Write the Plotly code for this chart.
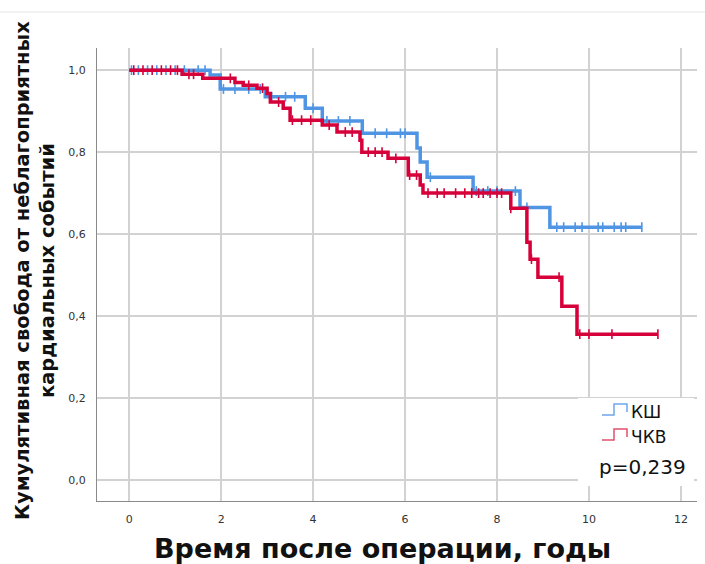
import numpy as np
import plotly.graph_objects as go

# ---------------- data ----------------
group_names = ["КШ", "ЧКВ"]

ksh_event_times = [0, 1.76, 1.98, 2.96, 3.83, 4.2, 5.07, 6.26, 6.33, 6.48, 7.48, 8.5, 9.15]
ksh_survival = [1.0, 0.988, 0.954, 0.935, 0.907, 0.876, 0.846, 0.81, 0.776, 0.739, 0.705, 0.665, 0.617]
ksh_last_time = 11.15
ksh_censored = [0.05, 0.2, 0.4, 0.6, 0.8, 1.0, 1.2, 1.5, 1.65, 2.05, 2.3, 2.6, 2.85, 3.1, 3.4,
                3.6, 4.0, 4.3, 4.55, 4.8, 5.35, 5.6, 5.9, 6.0, 6.55, 7.55, 7.8, 8.0, 8.4, 8.65,
                9.3, 9.45, 9.7, 9.85, 10.2, 10.3, 10.55, 10.7, 10.8, 11.15]

pci_event_times = [0, 1.15, 1.6, 2.3, 2.48, 2.78, 3.0, 3.07, 3.35, 3.5, 4.2, 4.52, 5.02, 5.06,
                   5.63, 6.07, 6.33, 6.39, 8.3, 8.65, 8.72, 8.89, 9.41, 9.74]
pci_survival = [1.0, 0.99, 0.98, 0.97, 0.963, 0.956, 0.943, 0.922, 0.907, 0.878, 0.866, 0.849,
                0.829, 0.80, 0.785, 0.744, 0.72, 0.70, 0.663, 0.58, 0.539, 0.495, 0.424, 0.356]
pci_last_time = 11.5
pci_censored = [0.1, 0.3, 0.5, 0.7, 0.9, 1.05, 1.3, 1.4, 2.2, 2.6, 2.9, 3.25, 3.55, 3.75, 3.95,
                4.35, 4.7, 4.85, 5.2, 5.35, 5.5, 5.8, 6.1, 6.25, 6.5, 6.7, 6.85, 7.1, 7.3, 7.45,
                7.6, 7.7, 7.85, 8.0, 8.1, 8.3, 8.75, 9.35, 9.8, 10.0, 10.5, 11.5]

p_value_text = "p=0,239"
x_ticks = [0, 2, 4, 6, 8, 10, 12]
y_ticks = [0.0, 0.2, 0.4, 0.6, 0.8, 1.0]
y_tick_labels = ["0,0", "0,2", "0,4", "0,6", "0,8", "1,0"]
x_title = "Время после операции, годы"
y_title = "Кумулятивная свобода от неблагоприятных<br>кардиальных событий"

# ---------------- styles ----------------
BLUE = "#4f95e3"
RED = "#d6003a"
FONT = "DejaVu Sans"


def step_value(times, surv, t):
    i = np.searchsorted(np.array(times), t, side="right") - 1
    return surv[max(i, 0)]


fig = go.Figure()
for times, surv, last, cens, col in [
    (ksh_event_times, ksh_survival, ksh_last_time, ksh_censored, BLUE),
    (pci_event_times, pci_survival, pci_last_time, pci_censored, RED),
]:
    xs = list(times) + [last]
    ys = list(surv) + [surv[-1]]
    fig.add_trace(go.Scatter(x=xs, y=ys, mode="lines", line=dict(color=col, width=3.5, shape="hv"),
                             showlegend=False, hoverinfo="skip"))
    fig.add_trace(go.Scatter(x=cens, y=[step_value(times, surv, t) for t in cens], mode="markers",
                             marker=dict(symbol="line-ns", size=7, line=dict(color=col, width=1.6)),
                             showlegend=False, hoverinfo="skip"))

L, R, T, B = 97, 8, 48, 63
W, H = 705, 564
pw, ph = W - L - R, H - T - B


def px_x(x):
    return (x - L) / pw


def px_y(y):
    return (H - B - y) / ph


fig.update_layout(
    width=W, height=H,
    margin=dict(l=L, r=R, t=T, b=B),
    paper_bgcolor="white", plot_bgcolor="white",
    font=dict(family=FONT, color="#222"),
    xaxis=dict(range=[-0.7, 12.35], tickvals=x_ticks, ticktext=[str(v) for v in x_ticks],
               showgrid=True, gridcolor="#d2d2d2", gridwidth=1.5, zeroline=False,
               showline=True, linecolor="#8a8a8a", linewidth=1.2,
               tickfont=dict(size=11, color="#333"), ticks="", ticklabelstandoff=8),
    yaxis=dict(range=[-0.051, 1.054], tickvals=y_ticks, ticktext=y_tick_labels,
               showgrid=True, gridcolor="#d2d2d2", gridwidth=1.5, zeroline=False,
               showline=True, linecolor="#8a8a8a", linewidth=1.2,
               tickfont=dict(size=11, color="#333"), ticks="", ticklabelstandoff=8),
)

shapes = [
    # top separator line
    dict(type="line", xref="paper", yref="paper", x0=px_x(0), x1=px_x(W), y0=px_y(12), y1=px_y(12),
         line=dict(color="#e6e6e6", width=1)),
    # legend white box
    dict(type="rect", xref="paper", yref="paper", x0=px_x(578), x1=px_x(694), y0=px_y(486), y1=px_y(398),
         fillcolor="white", line=dict(width=0), layer="above"),
]
# legend step icons
for (yl, yh), col in [((415, 404), "#6fa7ea"), ((440, 429), "#e0506f")]:
    path = "M {} {} L {} {} L {} {} L {} {} L {} {}".format(
        px_x(602), px_y(yl), px_x(614), px_y(yl), px_x(614), px_y(yh), px_x(627), px_y(yh),
        px_x(627), px_y(yl - 3))
    shapes.append(dict(type="path", xref="paper", yref="paper", path=path,
                       line=dict(color=col, width=1.5), layer="above"))
fig.update_layout(shapes=shapes)

annotations = [
    dict(text=group_names[0], x=px_x(629), y=px_y(412), xref="paper", yref="paper", showarrow=False,
         xanchor="left", yanchor="middle", font=dict(size=17, color="#111")),
    dict(text=group_names[1], x=px_x(629), y=px_y(437), xref="paper", yref="paper", showarrow=False,
         xanchor="left", yanchor="middle", font=dict(size=17, color="#111")),
    dict(text=p_value_text, x=px_x(642), y=px_y(467), xref="paper", yref="paper", showarrow=False,
         xanchor="center", yanchor="middle", font=dict(size=20, color="#111")),
    dict(text="<b>" + x_title + "</b>", x=px_x(382), y=px_y(548), xref="paper", yref="paper",
         showarrow=False, xanchor="center", yanchor="middle", font=dict(size=27, color="#111")),
    dict(text="<b>" + y_title + "</b>", x=px_x(35), y=px_y(271), xref="paper", yref="paper",
         showarrow=False, xanchor="center", yanchor="middle", textangle=-90,
         font=dict(size=19.5, color="#111")),
]
fig.update_layout(annotations=annotations)

fig.write_html("out.html", config={"displayModeBar": False},
               post_script="document.body.style.margin='0';")
